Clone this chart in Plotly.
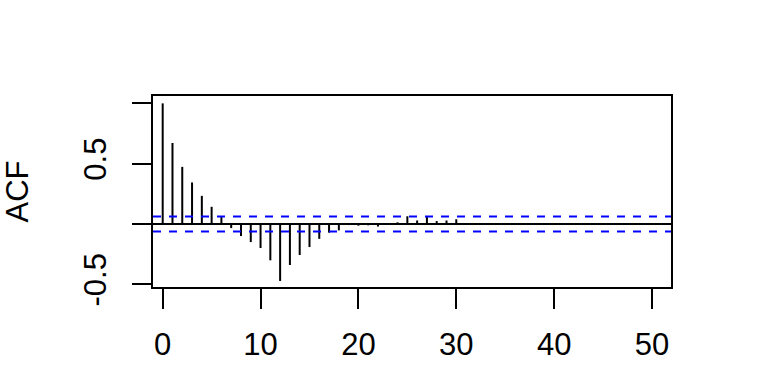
import plotly.graph_objects as go

lags = list(range(0, 31))
acf = [1.0, 0.672, 0.474, 0.345, 0.234, 0.143, 0.058, -0.033, -0.099, -0.149,
       -0.198, -0.300, -0.471, -0.339, -0.256, -0.190, -0.122, -0.071, -0.052, -0.008,
       -0.013, -0.010, -0.020, 0.000, 0.015, 0.065, 0.030, 0.065, 0.025, 0.030, 0.040]
ci = 0.062
x_ticks = [0, 10, 20, 30, 40, 50]
y_ticks = [-0.5, 0, 0.5, 1.0]
y_ticktext = ["-0.5", "", "0.5", ""]

xs, ys = [], []
for l, a in zip(lags, acf):
    xs += [l, l, None]
    ys += [0, a, None]

FONT = "Arial, Liberation Sans, sans-serif"
FS = 31
fig = go.Figure()
fig.add_trace(go.Scatter(x=xs, y=ys, mode="lines", line=dict(color="black", width=2),
                         hoverinfo="skip", showlegend=False))

for v in (ci, -ci):
    fig.add_shape(type="line", xref="paper", x0=0, x1=1, yref="y", y0=v, y1=v,
                  line=dict(color="blue", width=2, dash="8px,8px"))
fig.add_shape(type="line", xref="paper", x0=0, x1=1, yref="y", y0=0, y1=0,
              line=dict(color="black", width=2))

fig.update_layout(
    width=768, height=384,
    margin=dict(l=153, r=97, t=96, b=97),
    plot_bgcolor="white", paper_bgcolor="white",
    font=dict(family=FONT, size=FS, color="black"),
    showlegend=False,
)
fig.update_xaxes(range=[-0.99, 51.94], tickvals=x_ticks, ticks="outside", ticklen=20,
                 tickwidth=2, tickcolor="black", showgrid=False, zeroline=False,
                 showline=True, linecolor="black", linewidth=2, mirror=True,
                 tickfont=dict(size=FS), ticklabelstandoff=9)
fig.update_yaxes(range=[-0.521, 1.061], tickvals=y_ticks, ticktext=y_ticktext,
                 ticks="outside", ticklen=19, tickwidth=2, tickcolor="black",
                 showgrid=False, zeroline=False, showline=True, linecolor="black",
                 linewidth=2, mirror=True, tickangle=-90, tickfont=dict(size=FS),
                 ticklabelstandoff=14,
                 title=dict(text="ACF", font=dict(size=FS), standoff=40))

fig.write_html("out.html")
